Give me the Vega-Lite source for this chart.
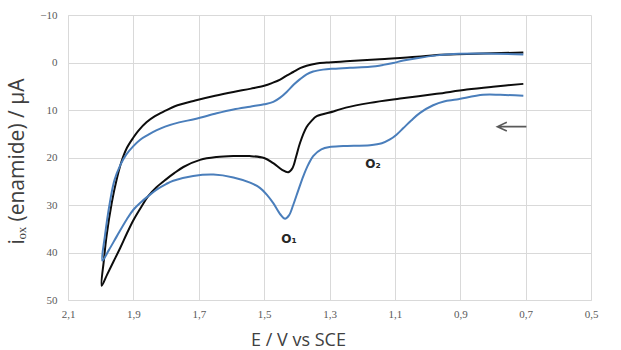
{
  "$schema": "https://vega.github.io/schema/vega-lite/v6.json",
  "width": 523,
  "height": 285,
  "autosize": {"type": "none"},
  "padding": {"left": 68, "top": 15, "right": 30, "bottom": 50},
  "background": "white",
  "config": {
    "view": {"stroke": null},
    "axis": {
      "gridColor": "#d9d9d9",
      "gridWidth": 1,
      "domainColor": "#d9d9d9",
      "ticks": false,
      "tickSize": 0,
      "labelFont": "Liberation Serif",
      "labelFontSize": 11,
      "labelColor": "#595959",
      "titleFont": "Open Sans",
      "titleFontWeight": "normal",
      "titleColor": "#404040"
    }
  },
  "layer": [
    {
      "data": {
        "values": [
          {"run": "black", "i": 1, "E": 0.707, "I": 4.5},
          {"run": "black", "i": 2, "E": 0.8, "I": 5.1},
          {"run": "black", "i": 3, "E": 0.88, "I": 5.7},
          {"run": "black", "i": 4, "E": 0.972, "I": 6.6},
          {"run": "black", "i": 5, "E": 1.084, "I": 7.6},
          {"run": "black", "i": 6, "E": 1.176, "I": 8.5},
          {"run": "black", "i": 7, "E": 1.25, "I": 9.5},
          {"run": "black", "i": 8, "E": 1.288, "I": 10.3},
          {"run": "black", "i": 9, "E": 1.339, "I": 11.3},
          {"run": "black", "i": 10, "E": 1.355, "I": 12.3},
          {"run": "black", "i": 11, "E": 1.37, "I": 13.6},
          {"run": "black", "i": 12, "E": 1.39, "I": 16.9},
          {"run": "black", "i": 13, "E": 1.402, "I": 19.8},
          {"run": "black", "i": 14, "E": 1.413, "I": 22.2},
          {"run": "black", "i": 15, "E": 1.426, "I": 23.1},
          {"run": "black", "i": 16, "E": 1.445, "I": 22.6},
          {"run": "black", "i": 17, "E": 1.472, "I": 21.2},
          {"run": "black", "i": 18, "E": 1.5, "I": 20.1},
          {"run": "black", "i": 19, "E": 1.545, "I": 19.7},
          {"run": "black", "i": 20, "E": 1.594, "I": 19.7},
          {"run": "black", "i": 21, "E": 1.645, "I": 19.9},
          {"run": "black", "i": 22, "E": 1.696, "I": 20.5},
          {"run": "black", "i": 23, "E": 1.747, "I": 22.0},
          {"run": "black", "i": 24, "E": 1.775, "I": 23.3},
          {"run": "black", "i": 25, "E": 1.8, "I": 24.6},
          {"run": "black", "i": 26, "E": 1.83, "I": 26.3},
          {"run": "black", "i": 27, "E": 1.854, "I": 28.1},
          {"run": "black", "i": 28, "E": 1.875, "I": 30.3},
          {"run": "black", "i": 29, "E": 1.9, "I": 33.2},
          {"run": "black", "i": 30, "E": 1.92, "I": 36.0},
          {"run": "black", "i": 31, "E": 1.94, "I": 39.0},
          {"run": "black", "i": 32, "E": 1.96, "I": 41.8},
          {"run": "black", "i": 33, "E": 1.98, "I": 44.6},
          {"run": "black", "i": 34, "E": 1.997, "I": 47.0},
          {"run": "black", "i": 35, "E": 1.99, "I": 41.5},
          {"run": "black", "i": 36, "E": 1.982, "I": 36.5},
          {"run": "black", "i": 37, "E": 1.966, "I": 29.5},
          {"run": "black", "i": 38, "E": 1.951, "I": 24.6},
          {"run": "black", "i": 39, "E": 1.936, "I": 20.8},
          {"run": "black", "i": 40, "E": 1.92, "I": 18.0},
          {"run": "black", "i": 41, "E": 1.9, "I": 15.8},
          {"run": "black", "i": 42, "E": 1.885, "I": 14.4},
          {"run": "black", "i": 43, "E": 1.86, "I": 12.6},
          {"run": "black", "i": 44, "E": 1.834, "I": 11.3},
          {"run": "black", "i": 45, "E": 1.8, "I": 10.1},
          {"run": "black", "i": 46, "E": 1.773, "I": 9.2},
          {"run": "black", "i": 47, "E": 1.711, "I": 8.0},
          {"run": "black", "i": 48, "E": 1.65, "I": 7.0},
          {"run": "black", "i": 49, "E": 1.594, "I": 6.2},
          {"run": "black", "i": 50, "E": 1.54, "I": 5.5},
          {"run": "black", "i": 51, "E": 1.5, "I": 4.9},
          {"run": "black", "i": 52, "E": 1.475, "I": 4.3},
          {"run": "black", "i": 53, "E": 1.451, "I": 3.6},
          {"run": "black", "i": 54, "E": 1.43, "I": 2.7},
          {"run": "black", "i": 55, "E": 1.411, "I": 2.0},
          {"run": "black", "i": 56, "E": 1.39, "I": 1.2},
          {"run": "black", "i": 57, "E": 1.37, "I": 0.7},
          {"run": "black", "i": 58, "E": 1.339, "I": 0.2},
          {"run": "black", "i": 59, "E": 1.309, "I": 0.0},
          {"run": "black", "i": 60, "E": 1.237, "I": -0.3},
          {"run": "black", "i": 61, "E": 1.146, "I": -0.7},
          {"run": "black", "i": 62, "E": 1.033, "I": -1.2},
          {"run": "black", "i": 63, "E": 0.972, "I": -1.6},
          {"run": "black", "i": 64, "E": 0.88, "I": -1.8},
          {"run": "black", "i": 65, "E": 0.707, "I": -2.1},
          {"run": "blue", "i": 1, "E": 0.707, "I": 7.0},
          {"run": "blue", "i": 2, "E": 0.778, "I": 6.8},
          {"run": "blue", "i": 3, "E": 0.83, "I": 6.8},
          {"run": "blue", "i": 4, "E": 0.911, "I": 7.8},
          {"run": "blue", "i": 5, "E": 0.95, "I": 8.2},
          {"run": "blue", "i": 6, "E": 0.983, "I": 9.0},
          {"run": "blue", "i": 7, "E": 1.023, "I": 10.6},
          {"run": "blue", "i": 8, "E": 1.05, "I": 12.2},
          {"run": "blue", "i": 9, "E": 1.074, "I": 13.8},
          {"run": "blue", "i": 10, "E": 1.095, "I": 15.2},
          {"run": "blue", "i": 11, "E": 1.115, "I": 16.2},
          {"run": "blue", "i": 12, "E": 1.14, "I": 17.0},
          {"run": "blue", "i": 13, "E": 1.176, "I": 17.4},
          {"run": "blue", "i": 14, "E": 1.258, "I": 17.6},
          {"run": "blue", "i": 15, "E": 1.3, "I": 17.8},
          {"run": "blue", "i": 16, "E": 1.325, "I": 18.3},
          {"run": "blue", "i": 17, "E": 1.35, "I": 19.7},
          {"run": "blue", "i": 18, "E": 1.365, "I": 21.5},
          {"run": "blue", "i": 19, "E": 1.38, "I": 23.9},
          {"run": "blue", "i": 20, "E": 1.395, "I": 26.8},
          {"run": "blue", "i": 21, "E": 1.411, "I": 30.0},
          {"run": "blue", "i": 22, "E": 1.424, "I": 32.2},
          {"run": "blue", "i": 23, "E": 1.436, "I": 32.9},
          {"run": "blue", "i": 24, "E": 1.45, "I": 32.0},
          {"run": "blue", "i": 25, "E": 1.472, "I": 29.6},
          {"run": "blue", "i": 26, "E": 1.492, "I": 27.8},
          {"run": "blue", "i": 27, "E": 1.513, "I": 26.4},
          {"run": "blue", "i": 28, "E": 1.543, "I": 25.3},
          {"run": "blue", "i": 29, "E": 1.594, "I": 24.2},
          {"run": "blue", "i": 30, "E": 1.655, "I": 23.6},
          {"run": "blue", "i": 31, "E": 1.717, "I": 23.9},
          {"run": "blue", "i": 32, "E": 1.778, "I": 24.9},
          {"run": "blue", "i": 33, "E": 1.8, "I": 25.6},
          {"run": "blue", "i": 34, "E": 1.83, "I": 26.8},
          {"run": "blue", "i": 35, "E": 1.854, "I": 28.1},
          {"run": "blue", "i": 36, "E": 1.875, "I": 29.3},
          {"run": "blue", "i": 37, "E": 1.9, "I": 31.0},
          {"run": "blue", "i": 38, "E": 1.92, "I": 33.0},
          {"run": "blue", "i": 39, "E": 1.95, "I": 36.5},
          {"run": "blue", "i": 40, "E": 1.975, "I": 39.5},
          {"run": "blue", "i": 41, "E": 1.995, "I": 41.7},
          {"run": "blue", "i": 42, "E": 1.987, "I": 36.5},
          {"run": "blue", "i": 43, "E": 1.972, "I": 29.5},
          {"run": "blue", "i": 44, "E": 1.958, "I": 24.8},
          {"run": "blue", "i": 45, "E": 1.94, "I": 21.6},
          {"run": "blue", "i": 46, "E": 1.922, "I": 19.4},
          {"run": "blue", "i": 47, "E": 1.9, "I": 17.6},
          {"run": "blue", "i": 48, "E": 1.88, "I": 16.3},
          {"run": "blue", "i": 49, "E": 1.854, "I": 15.2},
          {"run": "blue", "i": 50, "E": 1.83, "I": 14.3},
          {"run": "blue", "i": 51, "E": 1.803, "I": 13.5},
          {"run": "blue", "i": 52, "E": 1.76, "I": 12.6},
          {"run": "blue", "i": 53, "E": 1.711, "I": 11.9},
          {"run": "blue", "i": 54, "E": 1.645, "I": 10.7},
          {"run": "blue", "i": 55, "E": 1.594, "I": 9.9},
          {"run": "blue", "i": 56, "E": 1.543, "I": 9.3},
          {"run": "blue", "i": 57, "E": 1.5, "I": 8.8},
          {"run": "blue", "i": 58, "E": 1.472, "I": 8.3},
          {"run": "blue", "i": 59, "E": 1.451, "I": 7.4},
          {"run": "blue", "i": 60, "E": 1.431, "I": 6.2},
          {"run": "blue", "i": 61, "E": 1.41, "I": 4.7},
          {"run": "blue", "i": 62, "E": 1.39, "I": 3.5},
          {"run": "blue", "i": 63, "E": 1.37, "I": 2.5},
          {"run": "blue", "i": 64, "E": 1.35, "I": 1.9},
          {"run": "blue", "i": 65, "E": 1.32, "I": 1.5},
          {"run": "blue", "i": 66, "E": 1.288, "I": 1.3},
          {"run": "blue", "i": 67, "E": 1.237, "I": 1.1},
          {"run": "blue", "i": 68, "E": 1.176, "I": 0.9},
          {"run": "blue", "i": 69, "E": 1.135, "I": 0.5},
          {"run": "blue", "i": 70, "E": 1.105, "I": 0.1},
          {"run": "blue", "i": 71, "E": 1.074, "I": -0.4},
          {"run": "blue", "i": 72, "E": 1.033, "I": -0.9},
          {"run": "blue", "i": 73, "E": 0.972, "I": -1.5},
          {"run": "blue", "i": 74, "E": 0.92, "I": -1.8},
          {"run": "blue", "i": 75, "E": 0.83, "I": -1.9},
          {"run": "blue", "i": 76, "E": 0.707, "I": -1.7}
        ]
      },
      "mark": {"type": "line", "interpolate": "catmull-rom", "strokeWidth": 2},
      "encoding": {
        "x": {
          "field": "E",
          "type": "quantitative",
          "scale": {"domain": [0.5, 2.1], "reverse": true, "nice": false, "zero": false},
          "axis": {
            "title": "E / V vs SCE",
            "titleFontSize": 18,
            "titleX": 230,
            "titleY": 40,
            "titleBaseline": "middle",
            "values": [2.1, 1.9, 1.7, 1.5, 1.3, 1.1, 0.9, 0.7, 0.5],
            "labelExpr": "replace(format(datum.value, '.1f'), '.', ',')",
            "labelPadding": 8,
            "labelFlush": false
          }
        },
        "y": {
          "field": "I",
          "type": "quantitative",
          "scale": {"domain": [-10, 50], "reverse": true, "nice": false, "zero": false},
          "axis": {
            "title": "iₒₓ (enamide) / µA",
            "titleFontSize": 21,
            "titleX": -51,
            "titleY": 146,
            "titleAngle": -90,
            "titleAlign": "center",
            "titleBaseline": "middle",
            "values": [-10, 0, 10, 20, 30, 40, 50],
            "labelPadding": 11,
            "labelFlush": false
          }
        },
        "color": {
          "field": "run",
          "type": "nominal",
          "scale": {"domain": ["black", "blue"], "range": ["#0d0d0d", "#4a7ebb"]},
          "legend": null
        },
        "order": {"field": "i", "type": "quantitative"}
      }
    },
    {
      "data": {
        "values": [
          {"label": "O₁", "E": 1.424, "I": 37.2},
          {"label": "O₂", "E": 1.167, "I": 21.3}
        ]
      },
      "mark": {"type": "text", "font": "DejaVu Sans", "fontWeight": "bold", "fontSize": 12, "color": "#262626", "baseline": "middle", "align": "center"},
      "encoding": {
        "x": {"field": "E", "type": "quantitative"},
        "y": {"field": "I", "type": "quantitative"},
        "text": {"field": "label"}
      }
    },
    {
      "data": {"values": [{"E": 0.742, "I": 13.5}]},
      "mark": {
        "type": "point",
        "shape": "M -1 0 L 1 0 M -0.35 -0.3 L -1 0 L -0.35 0.3",
        "filled": false,
        "color": "#595959",
        "strokeWidth": 1.6,
        "size": 841,
        "opacity": 1
      },
      "encoding": {
        "x": {"field": "E", "type": "quantitative"},
        "y": {"field": "I", "type": "quantitative"}
      }
    }
  ]
}
